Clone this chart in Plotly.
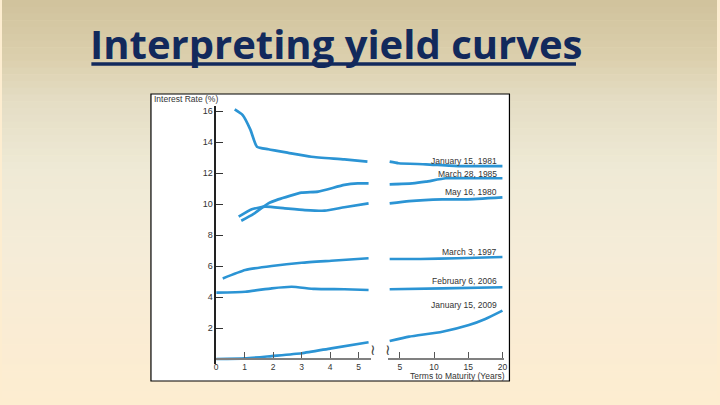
import plotly.graph_objects as go

# maturities (years), left panel (0-5) and right panel (5-20)
dates = ["January 15, 1981", "March 28, 1985", "May 16, 1980",
         "March 3, 1997", "February 6, 2006", "January 15, 2009"]

jan81_x = [0.65, 0.93, 1.2, 1.43, 1.83, 2.53, 3.34, 4.5, 5.31]
jan81_y = [16.1, 15.74, 14.8, 13.7, 13.53, 13.3, 13.05, 12.88, 12.73]
jan81_x2 = [3.5, 4.8, 8.8, 13.6, 16.1, 20.0]
jan81_y2 = [12.73, 12.63, 12.56, 12.45, 12.45, 12.45]

mar85_x = [0.88, 1.3, 1.83, 2.18, 3.0, 3.58, 4.5, 4.97, 5.35]
mar85_y = [8.92, 9.35, 10.04, 10.3, 10.73, 10.8, 11.23, 11.33, 11.33]
mar85_x2 = [3.5, 6.8, 8.8, 11.7, 15.0, 20.0]
mar85_y2 = [11.27, 11.33, 11.44, 11.66, 11.66, 11.66]

may80_x = [0.79, 1.25, 1.72, 2.41, 3.11, 3.81, 4.5, 5.35]
may80_y = [9.18, 9.66, 9.83, 9.72, 9.61, 9.57, 9.79, 10.04]
may80_x2 = [3.5, 6.35, 11.2, 14.6, 20.0]
may80_y2 = [10.04, 10.19, 10.3, 10.3, 10.43]

mar97_x = [0.23, 1.02, 1.95, 3.0, 4.04, 5.35]
mar97_y = [5.2, 5.74, 6.0, 6.21, 6.34, 6.5]
mar97_x2 = [3.5, 8.0, 13.4, 20.0]
mar97_y2 = [6.45, 6.45, 6.5, 6.58]

feb06_x = [0.0, 1.02, 1.95, 2.65, 3.46, 4.5, 5.35]
feb06_y = [4.28, 4.34, 4.56, 4.66, 4.52, 4.5, 4.45]
feb06_x2 = [3.5, 11.2, 20.0]
feb06_y2 = [4.5, 4.56, 4.63]

jan09_x = [0.0, 1.02, 1.95, 3.0, 4.04, 5.35]
jan09_y = [0.0, 0.04, 0.19, 0.37, 0.69, 1.08]
jan09_x2 = [3.5, 6.35, 11.2, 15.1, 17.5, 20.0]
jan09_y2 = [1.16, 1.44, 1.76, 2.19, 2.58, 3.12]

left_ticks = [0, 1, 2, 3, 4, 5]
right_ticks = [5, 10, 15, 20]
rate_ticks = [2, 4, 6, 8, 10, 12, 14, 16]

W, H = 720, 405
BLUE = "#2b94d4"
SMALL = dict(family="Liberation Sans Narrow, Liberation Sans, Arial", size=8.5, color="#333")


def px(x):
    return x / W


def py(y):
    return 1 - y / H


fig = go.Figure()
series = [
    (jan81_x, jan81_y, jan81_x2, jan81_y2),
    (mar85_x, mar85_y, mar85_x2, mar85_y2),
    (may80_x, may80_y, may80_x2, may80_y2),
    (mar97_x, mar97_y, mar97_x2, mar97_y2),
    (feb06_x, feb06_y, feb06_x2, feb06_y2),
    (jan09_x, jan09_y, jan09_x2, jan09_y2),
]
for name, (xl, yl, xr, yr) in zip(dates, series):
    fig.add_trace(go.Scatter(x=xl, y=yl, mode="lines", name=name, xaxis="x", yaxis="y",
                             line=dict(color=BLUE, width=2.7, shape="spline", smoothing=0.5)))
    fig.add_trace(go.Scatter(x=xr, y=yr, mode="lines", name=name, xaxis="x2", yaxis="y",
                             line=dict(color=BLUE, width=2.7, shape="spline", smoothing=0.5)))

# slide background: vertical gradient made of thin bands
stops = [(0, (208, 194, 156)), (60, (220, 208, 174)), (100, (228, 221, 196)),
         (170, (239, 234, 214)), (250, (245, 236, 216)), (330, (250, 236, 212)),
         (405, (253, 237, 208))]
shapes = []
n = 60
for i in range(n):
    y0 = i * H / n
    y1 = (i + 1) * H / n
    ym = (y0 + y1) / 2
    for (a, ca), (b, cb) in zip(stops[:-1], stops[1:]):
        if a <= ym <= b:
            t = (ym - a) / (b - a)
            c = tuple(round(ca[k] + (cb[k] - ca[k]) * t) for k in range(3))
            break
    shapes.append(dict(type="rect", xref="paper", yref="paper", x0=0, x1=1,
                       y0=py(y1 + 0.5), y1=py(y0), line=dict(width=0),
                       fillcolor="rgb(%d,%d,%d)" % c, layer="below"))

# white picture frame
shapes.append(dict(type="rect", xref="paper", yref="paper", x0=px(150), x1=px(511),
                   y0=py(381), y1=py(94), fillcolor="white",
                   line=dict(color="black", width=1.2), layer="below"))
# title underline
shapes.append(dict(type="line", xref="paper", yref="paper", x0=px(90), x1=px(578),
                   y0=py(64), y1=py(64), line=dict(color="#12295c", width=3.5)))

annotations = [
    dict(text="Interpreting yield curves", xref="paper", yref="paper", x=px(87), y=py(43),
         xanchor="left", yanchor="middle", showarrow=False,
         font=dict(family="Open Sans", size=40, color="#12295c", weight="bold")),
    dict(text="Interest Rate (%)", xref="paper", yref="paper", x=px(151), y=py(99),
         xanchor="left", yanchor="middle", showarrow=False, font=SMALL),
    dict(text="Terms to Maturity (Years)", xref="paper", yref="paper", x=px(509), y=py(376),
         xanchor="right", yanchor="middle", showarrow=False,
         font=dict(SMALL, size=8.5)),
    dict(text="≀", xref="paper", yref="paper", x=px(374), y=py(361), showarrow=False,
         font=dict(family="DejaVu Sans", size=15, color="#444")),
    dict(text="≀", xref="paper", yref="paper", x=px(389), y=py(361), showarrow=False,
         font=dict(family="DejaVu Sans", size=15, color="#444")),
]
label_y = [160.5, 173.5, 192, 251.5, 281, 305]
for name, ly in zip(dates, label_y):
    annotations.append(dict(text=name, xref="paper", yref="paper", x=px(500), y=py(ly),
                            xanchor="right", yanchor="middle", showarrow=False, font=SMALL))

axis_common = dict(showgrid=False, zeroline=False, ticks="inside", ticklen=6,
                   tickcolor="#555", tickfont=dict(SMALL, size=8.5), anchor="free",
                   position=py(359), showline=True, linecolor="#808080", linewidth=2)

fig.update_layout(
    width=W, height=H,
    margin=dict(l=0, r=0, t=0, b=0),
    paper_bgcolor="rgb(253,237,208)",
    plot_bgcolor="rgba(0,0,0,0)",
    showlegend=False,
    shapes=shapes,
    annotations=annotations,
    xaxis=dict(domain=[px(215.7), px(372)], range=[0, 5.45], tickvals=left_ticks, **axis_common),
    xaxis2=dict(domain=[px(388.3), px(506)], range=[3.2, 20.3], tickvals=right_ticks, **axis_common),
    yaxis=dict(domain=[py(363.65), py(106.35)], range=[-0.3, 16.3], tickvals=rate_ticks,
               showgrid=False, zeroline=False, ticks="inside", ticklen=7, tickcolor="#333",
               tickfont=dict(SMALL, size=9), showline=True, linecolor="#222", linewidth=1.5,
               anchor="x"),
)

fig.write_html("out.html", config={"displayModeBar": False},
               post_script="document.body.style.margin='0';")
